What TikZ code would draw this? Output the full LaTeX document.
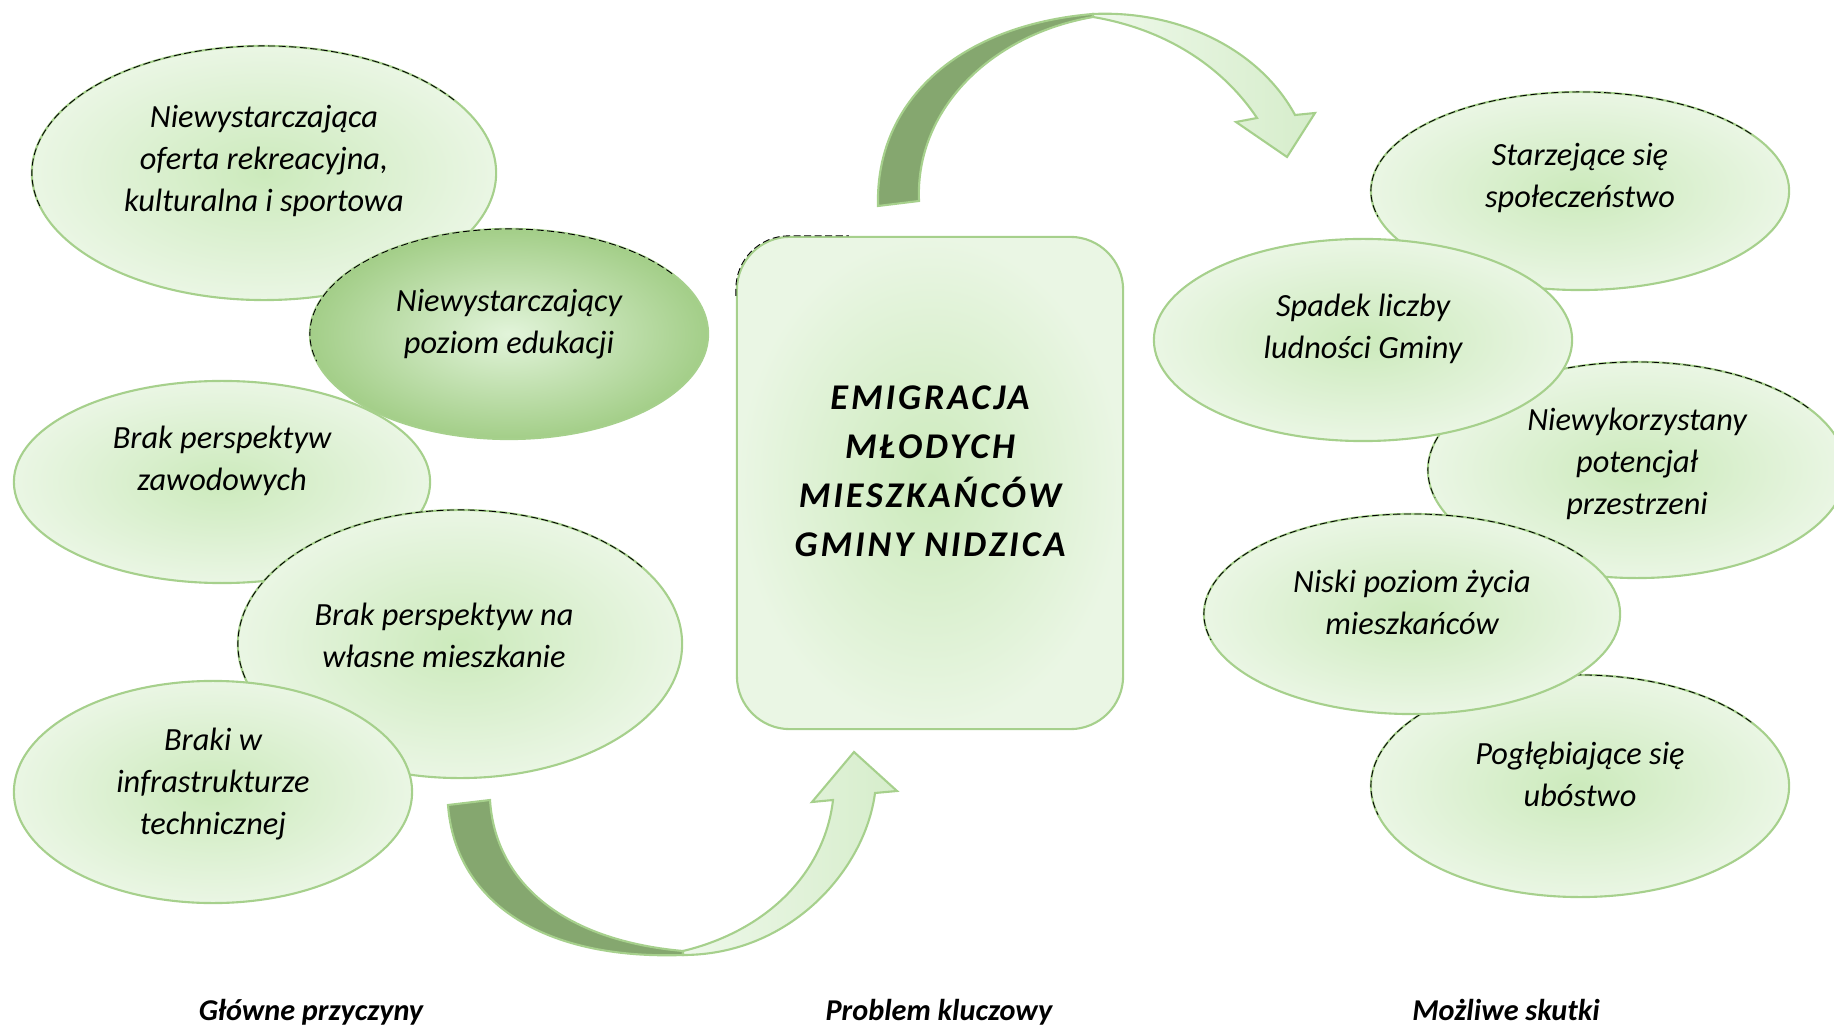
\documentclass[tikz,border=0pt]{standalone}
\usepackage{fontspec}
\setmainfont{Carlito}
\newfontfamily\headfont[LetterSpace=8]{Carlito}
\usetikzlibrary{shapes.geometric}
\usetikzlibrary{shadings}

\definecolor{leafline}{RGB}{166,208,140}
\definecolor{leafmid}{RGB}{204,234,188}
\definecolor{leafrim}{RGB}{234,246,228}
\definecolor{edumid}{RGB}{226,244,218}
\definecolor{edurim}{RGB}{163,206,136}
\definecolor{bark}{RGB}{133,167,111}
\definecolor{arrowpale}{RGB}{238,248,234}
\definecolor{arrowfill}{RGB}{214,237,203}

\tikzset{
    bubble/.style={ellipse, draw=leafline, line width=0.6pt, inner sep=0pt,
        inner color=leafmid, outer color=leafrim},
    say/.style={font=\fontsize{9.2}{12}\selectfont\itshape, align=center},
    rim/.style={draw=black, line width=0.25pt, dash pattern=on 2pt off 1pt},
    caption/.style={font=\fontsize{8.6}{10}\selectfont\bfseries\itshape, anchor=base},
}

% dashed rim on the upper left of a bubble: name, x radius, y radius
\newcommand\rimof[3]{\draw[rim] ([shift={(35:#2 and #3)}]#1.center) arc[start angle=35, end angle=195, x radius=#2, y radius=#3];}

\begin{document}
\begin{tikzpicture}[x=0.01cm,y=0.01cm]
    \useasboundingbox (0,0) rectangle (1834,1027);

    % causes
    \node[bubble, minimum width=4.64cm, minimum height=2.54cm] (oferta) at (264,854) {};
    \rimof{oferta}{2.32cm}{1.27cm}
    \node[say] (toferta) at ([yshift=0.12cm]oferta.center) {Niewystarczająca\\oferta rekreacyjna,\\kulturalna i sportowa};

    \node[bubble, minimum width=4.16cm, minimum height=2.02cm] (praca) at (222,545) {};
    \node[say] (tpraca) at ([yshift=0.21cm]praca.center) {Brak perspektyw\\zawodowych};

    \node[bubble, minimum width=3.98cm, minimum height=2.10cm, inner color=edumid, outer color=edurim] (edukacja) at (509,693) {};
    \rimof{edukacja}{1.99cm}{1.05cm}
    \node[say] (tedukacja) at ([yshift=0.10cm]edukacja.center) {Niewystarczający\\poziom edukacji};

    \node[bubble, minimum width=4.44cm, minimum height=2.68cm] (mieszkanie) at (460,383) {};
    \rimof{mieszkanie}{2.22cm}{1.34cm}
    \node[say] (tmieszkanie) at ([shift={(-0.16cm,0.09cm)}]mieszkanie.center) {Brak perspektyw na\\własne mieszkanie};

    \node[bubble, minimum width=3.98cm, minimum height=2.22cm] (infra) at (213,235) {};
    \node[say] (tinfra) at ([yshift=0.08cm]infra.center) {Braki w\\infrastrukturze\\technicznej};

    % key problem
    \node[draw=leafline, line width=0.6pt, rounded corners=0.53cm, minimum width=3.86cm, minimum height=4.92cm,
        inner color=leafmid, outer color=leafrim] (core) at (930,544) {};
    \draw[rim] ([yshift=-0.6cm]core.north west) -- ([yshift=-0.53cm]core.north west) arc[start angle=180, end angle=90, radius=0.53cm] -- ++(0.6cm,0);
    \node[font=\headfont\fontsize{10.3}{13.9}\selectfont\bfseries\itshape, align=center] (tcore) at (930,556)
        {EMIGRACJA\\MŁODYCH\\MIESZKAŃCÓW\\GMINY NIDZICA};

    % effects
    \node[bubble, minimum width=4.18cm, minimum height=1.98cm] (starzenie) at (1580,836) {};
    \rimof{starzenie}{2.09cm}{0.99cm}
    \node[say] (tstarzenie) at ([yshift=0.13cm]starzenie.center) {Starzejące się\\społeczeństwo};

    \node[bubble, minimum width=4.18cm, minimum height=2.16cm] (przestrzen) at (1637,557) {};
    \rimof{przestrzen}{2.09cm}{1.08cm}
    \node[say] (tprzestrzen) at ([yshift=0.06cm]przestrzen.center) {Niewykorzystany\\potencjał\\przestrzeni};

    \node[bubble, minimum width=4.18cm, minimum height=2.02cm] (ludnosc) at (1363,687) {};
    \node[say] (tludnosc) at ([yshift=0.11cm]ludnosc.center) {Spadek liczby\\ludności Gminy};

    \node[bubble, minimum width=4.18cm, minimum height=2.22cm] (ubostwo) at (1580,241) {};
    \rimof{ubostwo}{2.09cm}{1.11cm}
    \node[say] (tubostwo) at ([yshift=0.12cm]ubostwo.center) {Pogłębiające się\\ubóstwo};

    \node[bubble, minimum width=4.16cm, minimum height=2.00cm] (zycie) at (1412,413) {};
    \rimof{zycie}{2.08cm}{1.00cm}
    \node[say] (tzycie) at ([yshift=0.12cm]zycie.center) {Niski poziom życia\\mieszkańców};

    % lower curved arrow, causes -> problem
    \fill[bark, draw=leafline, line width=0.6pt] (448,222) .. controls (455,127) and (540,67) .. (683,72)
        -- (683,76) .. controls (560,87) and (495,147) .. (490,227) -- cycle;
    \shade[left color=arrowpale, right color=arrowfill, draw=leafline, line width=0.6pt]
        (683,72) .. controls (790,72) and (865,157) .. (875,234) -- (897,236) -- (854,275) -- (812,225)
        -- (833,227) .. controls (825,157) and (770,97) .. (683,76) -- cycle;

    % upper curved arrow, problem -> effects
    \fill[bark, draw=leafline, line width=0.6pt] (878,821) .. controls (875,927) and (960,1002) .. (1093,1013)
        -- (1093,1010) .. controls (990,992) and (915,917) .. (919,826) -- cycle;
    \shade[left color=arrowpale, right color=arrowfill, draw=leafline, line width=0.6pt]
        (1093,1013) .. controls (1180,1017) and (1260,977) .. (1295,912) -- (1315,914) -- (1287,870) -- (1236,905)
        -- (1257,909) .. controls (1225,957) and (1170,997) .. (1093,1010) -- cycle;

    % column captions
    \foreach \t/\x [count=\n] in {Główne przyczyny/311, Problem kluczowy/939, Możliwe skutki/1506}{
        \node[caption] (caption\n) at (\x,7) {\t};
    }
\end{tikzpicture}
\end{document}
